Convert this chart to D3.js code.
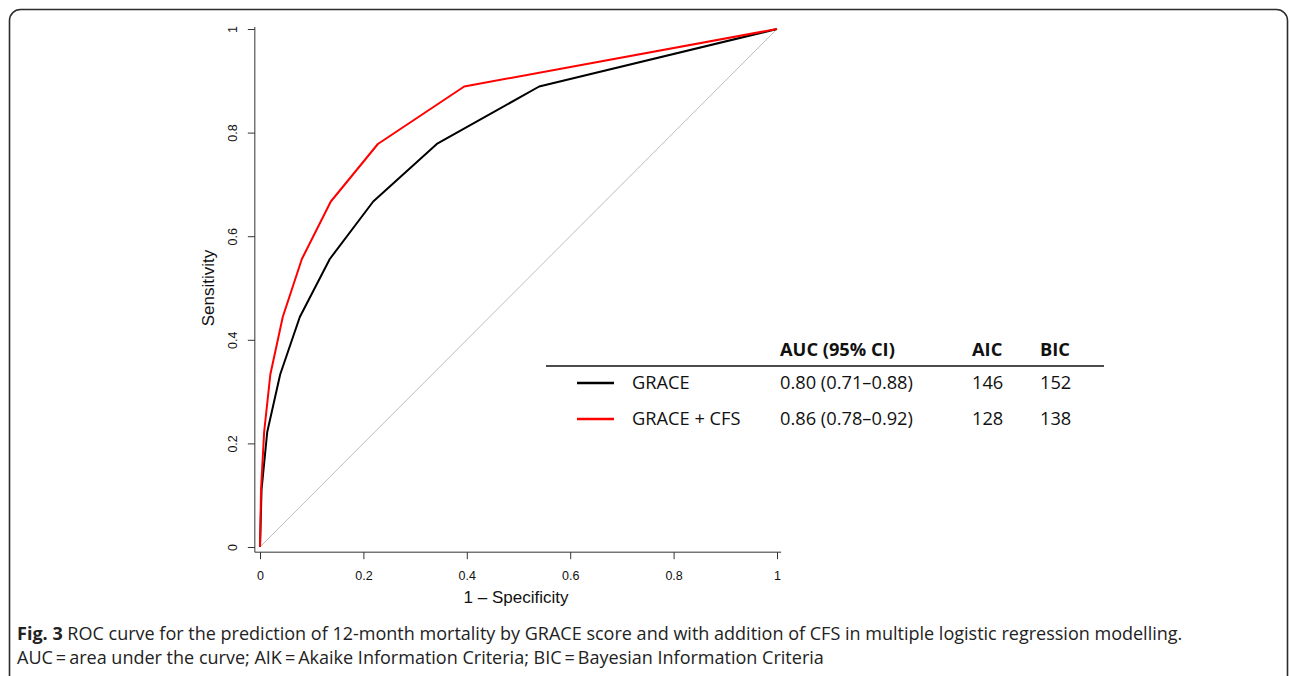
<!DOCTYPE html>
<html>
<head>
<meta charset="utf-8">
<script src="https://cdn.jsdelivr.net/npm/d3@7"></script>
<style>
  body { margin: 0; background: #fff; }
  svg { display: block; }
</style>
</head>
<body>
<svg id="chart" width="1290" height="676"></svg>
<script>
// ROC data (sensitivity steps of 1/9)
const sensitivity = [0, 0.111, 0.222, 0.333, 0.444, 0.556, 0.667, 0.778, 0.889, 1];
const fprGrace = [0, 0.003, 0.014, 0.039, 0.077, 0.135, 0.219, 0.342, 0.540, 1];
const fprGraceCfs = [0, 0.002, 0.008, 0.020, 0.044, 0.081, 0.137, 0.228, 0.395, 1];
const ticks = [0, 0.2, 0.4, 0.6, 0.8, 1];

const modelNames = ['GRACE', 'GRACE + CFS'];
const modelColors = ['#000000', '#ff0000'];
const aucLabels = ['0.80 (0.71\u20130.88)', '0.86 (0.78\u20130.92)'];
const aicValues = [146, 128];
const bicValues = [152, 138];
const tableHeaders = ['AUC (95% CI)', 'AIC', 'BIC'];

const svg = d3.select('#chart');

// scale a text's font so it takes up a given width
function fitWidth(sel, target) {
    const size = parseFloat(sel.style('font-size'));
    const w = sel.node().getComputedTextLength();
    const s = size * target / w;
    sel.style('font-size', s + 'px');
    return s;
}

// Frame with rounded corners (runs past the bottom/right of the window)
svg.append('rect')
    .attr('x', 9.5).attr('y', 9.5)
    .attr('width', 1278).attr('height', 700)
    .attr('rx', 11)
    .attr('fill', 'none')
    .attr('stroke', '#2b2b2b')
    .attr('stroke-width', 1.6);

// Scales
const x = d3.scaleLinear().domain([0, 1]).range([260, 777]);
const y = d3.scaleLinear().domain([0, 1]).range([547, 29]);

const axisColor = '#333';
const tickFont = '"Liberation Sans", Arial, sans-serif';
const fmt = d => String(+d.toFixed(1));

// Axis lines meet at the lower-left corner
svg.append('line')
    .attr('x1', x(-0.01)).attr('x2', x(1.008))
    .attr('y1', y(-0.01)).attr('y2', y(-0.01))
    .attr('stroke', axisColor).attr('stroke-width', 1);
svg.append('line')
    .attr('x1', x(-0.01)).attr('x2', x(-0.01))
    .attr('y1', y(-0.01)).attr('y2', y(1.004))
    .attr('stroke', axisColor).attr('stroke-width', 1);

// X axis
const xAxis = svg.append('g')
    .attr('transform', `translate(0,${y(-0.01)})`)
    .call(d3.axisBottom(x).tickValues(ticks).tickFormat(fmt).tickSize(7).tickPadding(12));
xAxis.select('.domain').remove();
xAxis.selectAll('line').attr('stroke', axisColor);
xAxis.selectAll('text')
    .attr('fill', '#111')
    .style('font-family', tickFont)
    .style('font-size', '12.5px');

// Y axis, labels turned like the R default
const yAxis = svg.append('g')
    .attr('transform', `translate(${x(-0.01)},0)`)
    .call(d3.axisLeft(y).tickValues(ticks).tickFormat(fmt).tickSize(7));
yAxis.select('.domain').remove();
yAxis.selectAll('line').attr('stroke', axisColor);
yAxis.selectAll('text')
    .attr('fill', '#111')
    .attr('x', null).attr('dy', null)
    .attr('transform', 'translate(-21,0) rotate(-90)')
    .attr('text-anchor', 'middle')
    .attr('dominant-baseline', 'middle')
    .style('font-family', tickFont)
    .style('font-size', '12.5px');

// Axis titles
svg.append('text')
    .attr('x', 516).attr('y', 603)
    .attr('text-anchor', 'middle')
    .style('font-family', tickFont)
    .style('font-size', '17px')
    .attr('fill', '#111')
    .text('1 \u2013 Specificity');
svg.append('text')
    .attr('transform', `translate(214,${y(0.5)}) rotate(-90)`)
    .attr('text-anchor', 'middle')
    .style('font-family', tickFont)
    .style('font-size', '17px')
    .attr('fill', '#111')
    .text('Sensitivity');

// Chance diagonal
svg.append('line')
    .attr('x1', x(0)).attr('y1', y(0))
    .attr('x2', x(1)).attr('y2', y(1))
    .attr('stroke', '#bdbdbd').attr('stroke-width', 1);

// ROC curves
const line = d3.line().x(d => x(d[0])).y(d => y(d[1]));
const curves = [fprGrace, fprGraceCfs].map(f => f.map((v, i) => [v, sensitivity[i]]));
svg.selectAll('path.roc')
    .data(curves)
    .join('path')
    .attr('class', 'roc')
    .attr('d', line)
    .attr('fill', 'none')
    .attr('stroke', (d, i) => modelColors[i])
    .attr('stroke-width', 2)
    .attr('stroke-linejoin', 'round');

// Legend table
const tableFont = '"Open Sans", "Noto Sans", sans-serif';
const colX = [780, 972, 1040];
const legend = svg.append('g');

// size the table text from the width of the AUC cell
const probe = legend.append('text')
    .style('font-family', tableFont)
    .style('font-size', '15px')
    .text(aucLabels[0]);
const tableSize = fitWidth(probe, 133);
probe.remove();

legend.selectAll('text.head')
    .data(tableHeaders)
    .join('text')
    .attr('class', 'head')
    .attr('x', (d, i) => colX[i])
    .attr('y', 356)
    .style('font-family', tableFont)
    .style('font-size', tableSize + 'px')
    .style('font-weight', 'bold')
    .attr('fill', '#111')
    .text(d => d);

legend.append('line')
    .attr('x1', 546).attr('x2', 1104)
    .attr('y1', 366).attr('y2', 366)
    .attr('stroke', '#111').attr('stroke-width', 1.5);

const rows = legend.selectAll('g.row')
    .data(modelNames)
    .join('g')
    .attr('class', 'row')
    .attr('transform', (d, i) => `translate(0,${383 + i * 36})`);

rows.append('line')
    .attr('x1', 577).attr('x2', 614)
    .attr('stroke', (d, i) => modelColors[i])
    .attr('stroke-width', 2.5);

const cells = (d, i) => [d, aucLabels[i], aicValues[i], bicValues[i]];
const cellX = [632].concat(colX);
rows.selectAll('text')
    .data(cells)
    .join('text')
    .attr('x', (d, j) => cellX[j])
    .attr('y', 6)
    .style('font-family', tableFont)
    .style('font-size', tableSize + 'px')
    .attr('fill', '#111')
    .text(d => d);

// Caption
const capFont = '"Open Sans", "Noto Sans", sans-serif';
const cap1 = svg.append('text')
    .attr('x', 17).attr('y', 640)
    .style('font-family', capFont)
    .style('font-size', '16px')
    .attr('fill', '#222');
cap1.append('tspan').style('font-weight', 'bold').text('Fig. 3');
cap1.append('tspan').text(' ROC curve for the prediction of 12-month mortality by GRACE score and with addition of CFS in multiple logistic regression modelling.');
const capSize = fitWidth(cap1, 1166);

svg.append('text')
    .attr('x', 17).attr('y', 664)
    .style('font-family', capFont)
    .style('font-size', capSize + 'px')
    .attr('fill', '#222')
    .text('AUC\u2009=\u2009area under the curve; AIK\u2009=\u2009Akaike Information Criteria; BIC\u2009=\u2009Bayesian Information Criteria');
</script>
</body>
</html>
